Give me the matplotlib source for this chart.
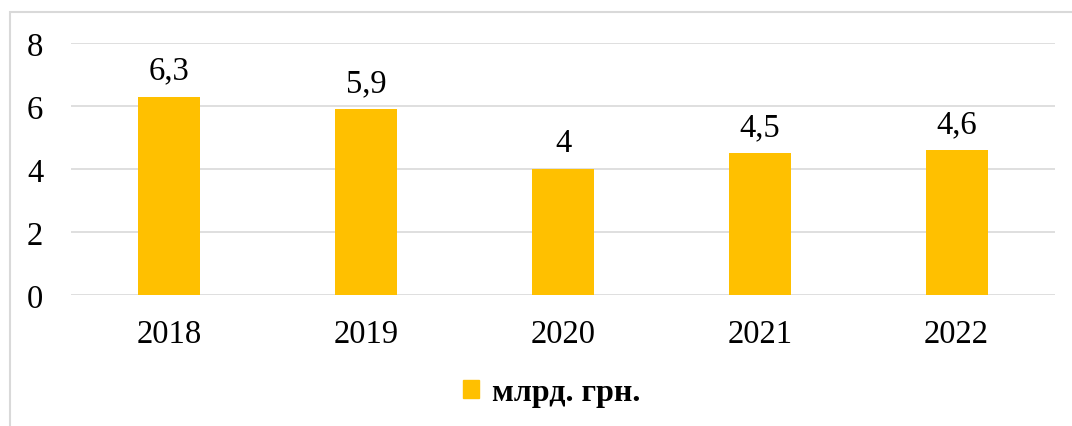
import matplotlib.pyplot as plt
from matplotlib.patches import Rectangle, Patch

# ---- Data (млрд. грн.) ----
years = ["2018", "2019", "2020", "2021", "2022"]
values = [6.3, 5.9, 4.0, 4.5, 4.6]
labels = ["6,3", "5,9", "4", "4,5", "4,6"]
series_name = "млрд. грн."

plt.rcParams["font.family"] = ["Liberation Serif", "DejaVu Serif"]

fig = plt.figure(figsize=(10.72, 4.27), dpi=100)
ax = fig.add_axes([71 / 1072, 1 - 296 / 427, (1055 - 71) / 1072, (296 - 44) / 427])

x = range(len(years))
bars = ax.bar(x, values, width=0.315, color="#FFC000", zorder=3)

for b, lab in zip(bars, labels):
    ax.annotate(lab, (b.get_x() + b.get_width() / 2, b.get_height()),
                xytext=(0, 8), textcoords="offset points",
                ha="center", va="bottom", fontsize=23.5)

ax.set_xlim(-0.5, len(years) - 0.5)
ax.set_ylim(0, 8)
ax.set_yticks([0, 2, 4, 6, 8])
ax.set_xticks(list(x))
ax.set_xticklabels(years)
ax.tick_params(axis="both", length=0, labelsize=23.5)
ax.tick_params(axis="y", pad=20)
ax.tick_params(axis="x", pad=17)
ax.grid(axis="y", color="#D9D9D9", linewidth=1.2, zorder=0)
for s in ax.spines.values():
    s.set_visible(False)

# ---- Legend ----
fig.legend(handles=[Patch(color="#FFC000", label=series_name)],
           loc="center", bbox_to_anchor=(552 / 1072, 1 - 394 / 427),
           frameon=False, handlelength=0.5, handleheight=0.5, handletextpad=0.4,
           prop={"size": 23, "weight": "bold"})

# ---- Chart border ----
fig.add_artist(Rectangle((10 / 1072, -0.1), 1.2, 1.1 - 13 / 427,
                         transform=fig.transFigure, fill=False,
                         edgecolor="#D9D9D9", linewidth=1.5, clip_on=False))

plt.savefig("out.png", dpi=100)
